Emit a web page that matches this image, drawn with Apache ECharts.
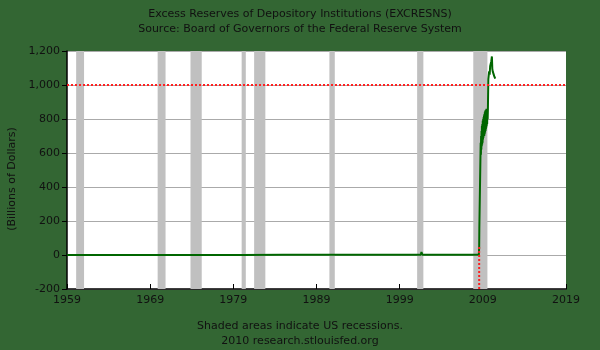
<!DOCTYPE html>
<html>
<head>
<meta charset="utf-8">
<script src="https://cdn.jsdelivr.net/npm/echarts@6/dist/echarts.min.js"></script>
<style>
html,body{margin:0;padding:0;background:#336633;}
#c{width:600px;height:350px;}
</style>
</head>
<body>
<div id="c"></div>
<script>
// ---- data ----
var titleLines = ["Excess Reserves of Depository Institutions (EXCRESNS)", "Source: Board of Governors of the Federal Reserve System"];
var footerLines = ["Shaded areas indicate US recessions.", "2010 research.stlouisfed.org"];
var yAxisTitle = "(Billions of Dollars)";
var xStart = 1959, xEnd = 2019, xStep = 10;
var yTicks = [-200, 0, 200, 400, 600, 800, 1000, 1200];

var years = [1959.0, 1965.0, 1970.0, 1975.0, 1980.0, 1985.0, 1990.0, 1995.0, 2001.55, 2001.62, 2001.72, 2001.80, 2005.0, 2007.9, 2008.52,
  2008.56, 2008.58, 2008.70, 2008.72, 2008.74, 2008.77, 2008.79, 2008.82, 2008.84, 2008.87, 2008.89, 2008.92, 2008.94,
  2008.97, 2008.99, 2009.02, 2009.04, 2009.07, 2009.09, 2009.12, 2009.14, 2009.17, 2009.19, 2009.22, 2009.24, 2009.27,
  2009.29, 2009.32, 2009.34, 2009.37, 2009.39, 2009.42, 2009.44, 2009.47, 2009.49, 2009.52, 2009.55, 2009.58, 2009.61,
  2009.63, 2009.66, 2009.70, 2009.76, 2009.82, 2009.88, 2009.95,
  2010.02, 2010.09, 2010.14, 2010.19, 2010.25, 2010.30, 2010.37, 2010.43, 2010.49];
var reserves = [0.5, 0.4, 0.3, 0.3, 0.5, 1.0, 1.2, 1.0, 1.5, 18, 2, 1.5, 1.8, 2.0, 2.0,
  45, 158, 160, 600, 660, 590, 700, 620, 730, 640, 760, 650, 770,
  660, 790, 680, 800, 690, 810, 700, 820, 700, 830, 710, 840, 720,
  850, 730, 845, 740, 855, 750, 860, 760, 850, 770, 860, 800, 860,
  850, 1035, 1045, 1080, 1060, 1110, 1100,
  1140, 1168, 1095, 1080, 1090, 1070, 1052, 1045, 1037];

var recessionStart = [1960.1, 1969.9, 1973.85, 1980.0, 1981.5, 1990.55, 2001.1, 2007.85];
var recessionEnd   = [1961.05, 1970.85, 1975.2, 1980.5, 1982.85, 1991.2, 2001.85, 2009.55];

var refLevel = 1000;          // horizontal red dotted reference
var refYear = 2008.56;        // vertical red dotted reference
var refYearTop = 50;

// ---- chart ----
var chart = echarts.init(document.getElementById('c'));
var off = function (y) { return y - xStart; };
var lineData = years.map(function (y, i) { return [off(y), reserves[i]]; });
var areas = recessionStart.map(function (s, i) {
  return [{ xAxis: off(s) }, { xAxis: off(recessionEnd[i]) }];
});
var font = 'DejaVu Sans';
var txt = '#111';
var fs = 11;

chart.setOption({
  backgroundColor: '#336633',
  animation: false,
  title: [
    { text: titleLines[0], left: 'center', top: 4, textStyle: { fontFamily: font, fontSize: fs, fontWeight: 'normal', color: txt } },
    { text: titleLines[1], left: 'center', top: 19, textStyle: { fontFamily: font, fontSize: fs, fontWeight: 'normal', color: txt } },
    { text: footerLines[0], left: 'center', top: 316, textStyle: { fontFamily: font, fontSize: fs, fontWeight: 'normal', color: txt } },
    { text: footerLines[1], left: 'center', top: 331, textStyle: { fontFamily: font, fontSize: fs, fontWeight: 'normal', color: txt } }
  ],
  graphic: [{
    type: 'text', x: 12, y: 179, rotation: Math.PI / 2,
    style: { text: yAxisTitle, font: fs + 'px DejaVu Sans', fill: txt, align: 'center', verticalAlign: 'middle' }
  }],
  grid: { left: 67, right: 34, top: 51, bottom: 61, show: true, backgroundColor: '#ffffff', borderWidth: 0 },
  xAxis: {
    type: 'value', min: 0, max: off(xEnd), interval: xStep,
    axisLine: { show: true, onZero: false, lineStyle: { color: '#000', width: 1.5 } },
    axisTick: { show: true, inside: true, length: 5, lineStyle: { color: '#000' } },
    axisLabel: { fontFamily: font, fontSize: fs, color: txt, margin: 6, formatter: function (v) { return String(v + xStart); } },
    splitLine: { show: false }
  },
  yAxis: {
    type: 'value', min: yTicks[0], max: yTicks[yTicks.length - 1], interval: 200,
    axisLine: { show: true, lineStyle: { color: '#000', width: 1.5 } },
    axisTick: { show: true, inside: false, length: 5, lineStyle: { color: '#000' } },
    axisLabel: { fontFamily: font, fontSize: fs, color: txt, margin: 7, formatter: function (v) { return v.toLocaleString('en-US'); } },
    splitLine: { show: true, lineStyle: { color: '#aaaaaa', width: 1 } }
  },
  series: [
    {
      type: 'line', data: [], z: 1, silent: true,
      markArea: { silent: true, itemStyle: { color: '#c0c0c0' }, data: areas }
    },
    {
      type: 'line', data: lineData, z: 3, symbol: 'none', smooth: false,
      lineStyle: { color: '#006600', width: 2 }
    },
    {
      type: 'line', z: 4, symbol: 'none',
      data: [[0, refLevel], [off(xEnd), refLevel]],
      lineStyle: { color: '#ff2020', width: 2, type: [2, 2] }
    },
    {
      type: 'line', z: 4, symbol: 'none',
      data: [[off(refYear), yTicks[0]], [off(refYear), refYearTop]],
      lineStyle: { color: '#ff2020', width: 2, type: [2, 2] }
    }
  ]
});
</script>
</body>
</html>
